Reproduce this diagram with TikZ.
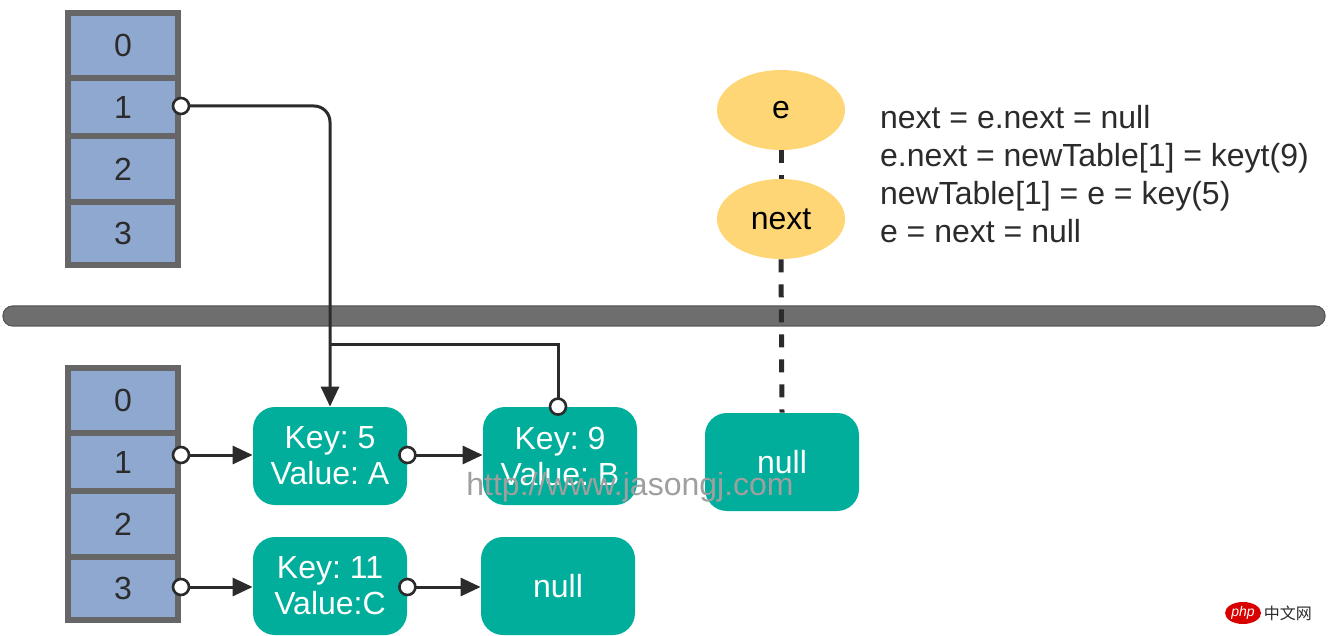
\documentclass[tikz,border=0pt]{standalone}
\usepackage{fontspec}
\setmainfont{Liberation Sans}
\newfontfamily\cjkfont{Noto Sans CJK SC}
\usetikzlibrary{arrows.meta,positioning,shapes.geometric}
\frenchspacing

\definecolor{cellblue}{HTML}{8EA8D0}
\definecolor{cellgray}{HTML}{666666}
\definecolor{teal}{HTML}{00AE9B}
\definecolor{sun}{HTML}{FED675}
\definecolor{ink}{HTML}{2B2B2B}

\tikzset{
    cell/.style={draw=cellgray,line width=3pt,fill=cellblue,minimum width=55pt,
        inner sep=0pt,text=ink,font=\fontsize{16}{18}\selectfont},
    entry/.style={fill=teal,rounded corners=11pt,minimum width=77pt,minimum height=49pt,
        text=white,align=center,inner sep=0pt,font=\fontsize{16}{18}\selectfont},
    var/.style={ellipse,fill=sun,minimum width=64pt,minimum height=40pt,inner sep=0pt,
        font=\fontsize{16}{18}\selectfont},
    link/.style={draw=ink,line width=1.5pt,-{Triangle[length=10pt,width=9pt]}},
    port/.style={circle,draw=ink,fill=white,line width=1.3pt,minimum size=8pt,inner sep=0pt},
}

\begin{document}
\begin{tikzpicture}[x=0.5pt,y=-0.5pt]
        \useasboundingbox (0,0) rectangle (1328,636);
        % old table
        \foreach \i/\ya/\yb in {0/10/75,1/75/133,2/133/199,3/199/262}
            \node[cell,anchor=north,minimum height={(\yb-\ya)*0.5pt}] (t\i) at (123,\ya) {\i};
        % new table
        \foreach \i/\ya/\yb in {0/365/430,1/430/488,2/488/554,3/554/617}
            \node[cell,anchor=north,minimum height={(\yb-\ya)*0.5pt}] (n\i) at (123,\ya) {\i};
        % separator
        \draw[draw=cellgray!85!black,fill=cellgray!95,line width=0.6pt,rounded corners=4.8pt]
            (3,306) rectangle (1325,326);
        % entries
        \node[entry] (k5) at (330,456) {Key: 5\\Value: A};
        \node[entry] (k9) at (560,456) {Key: 9\\Value: B};
        \node[entry] (nl) at (782,462) {null};
        \node[entry] (k11) at (330,586) {Key: 11\\Value:C};
        \node[entry] (nb) at (558,586) {null};
        % pointers
        \node[var] (e) at (781,110) {e};
        \node[var] (nx) at (781,219) {next};
        \draw[ink,line width=2.5pt,dash pattern=on 6.5pt off 6pt] (e.south) -- (nx.north);
        \draw[ink,line width=2.5pt,dash pattern=on 6.5pt off 6pt] (nx.south) -- (nl.north);
        \node[anchor=west,align=left,text=ink,font=\fontsize{16}{19}\selectfont] (steps) at (873,174)
            {next = e.next = null\\e.next = newTable[1] = keyt(9)\\newTable[1] = e = key(5)\\e = next = null};
        % links
        \coordinate (join) at (331,344);
        \draw[link,rounded corners=8pt] (t1.east |- 0,106) -| (k5.north);
        \draw[ink,line width=1.5pt] (k9.north -| 558,0) |- (join);
        \draw[link] (n1.east |- 0,455) -- (k5.west |- 0,455);
        \draw[link] (k5.east |- 0,455) -- (k9.west |- 0,455);
        \draw[link] (n3.east |- 0,587) -- (k11.west |- 0,587);
        \draw[link] (k11.east |- 0,587) -- (nb.west |- 0,587);
        \node[port] at (t1.east |- 0,106) {};
        \node[port] at (n1.east |- 0,455) {};
        \node[port] at (k5.east |- 0,455) {};
        \node[port] at (n3.east |- 0,587) {};
        \node[port] at (k11.east |- 0,587) {};
        \node[port] at (k9.north -| 558,0) {};
        % watermarks
        \node[text=gray!75,font=\fontsize{16}{18}\selectfont] (mark) at (630,487) {http://www.jasongj.com};
        \node[ellipse,fill=red!85!black,minimum width=18pt,minimum height=11pt,inner sep=0pt,
            text=white,font=\fontsize{7}{8}\selectfont\itshape] (php) at (1243,613) {php};
        \node[right=1pt of php,inner sep=0pt,text=ink,font=\fontsize{8}{9}\cjkfont] {中文网};
\end{tikzpicture}
\end{document}
